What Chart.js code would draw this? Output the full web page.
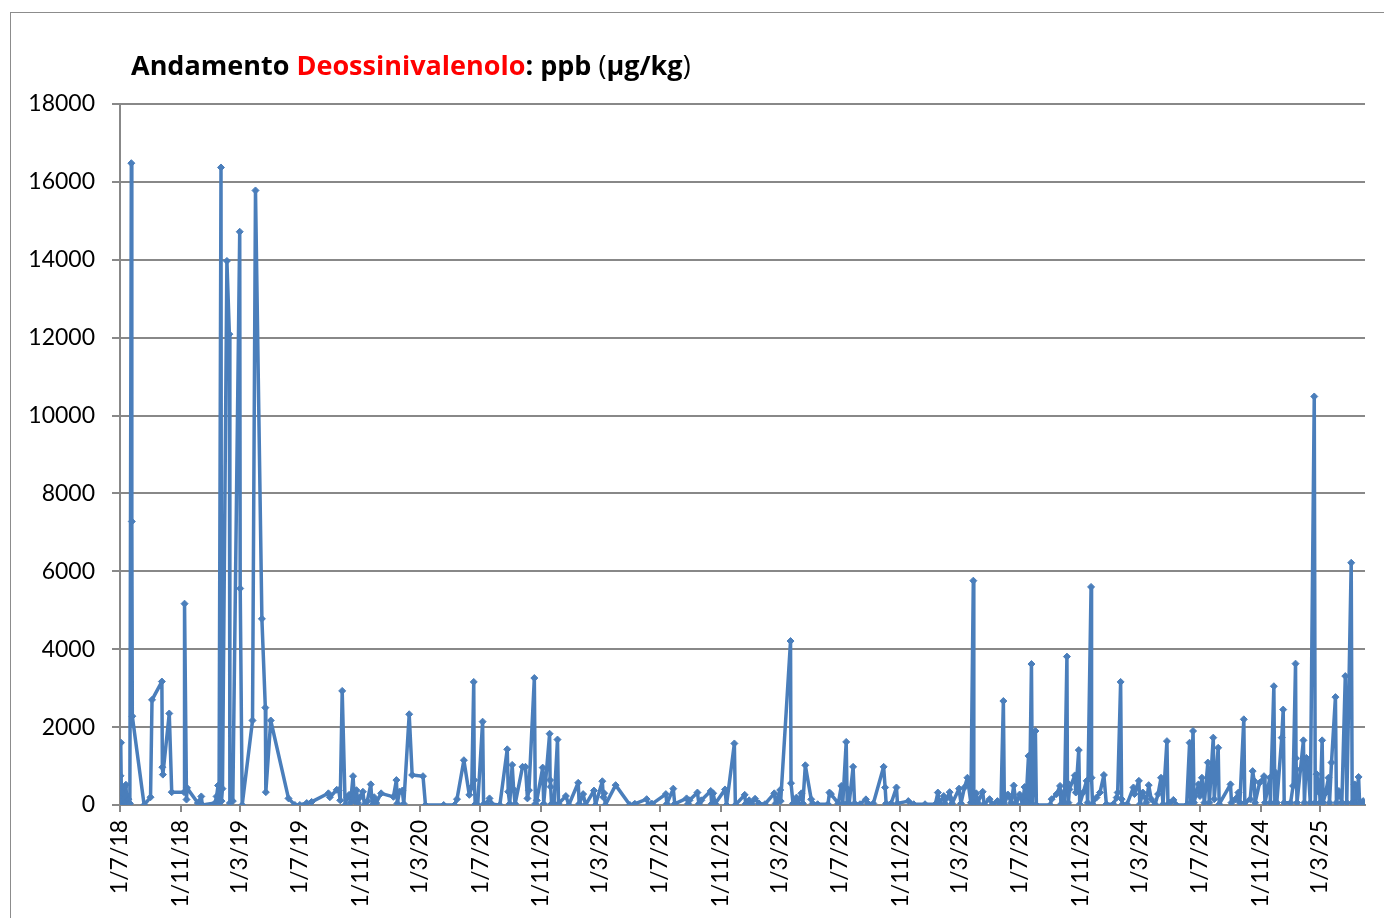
<!DOCTYPE html>
<html>
<head>
<meta charset="utf-8">
<script src="https://cdn.jsdelivr.net/npm/chart.js@4.4.1/dist/chart.umd.min.js"></script>
<style>
  html, body { margin:0; padding:0; background:#fff; overflow:hidden; }
  #wrap { position:relative; width:1384px; height:918px; overflow:hidden; }
  #frame { position:absolute; left:10px; top:12px; width:1400px; height:1000px; border:1px solid #8c8c8c; box-sizing:border-box; }
  #title { position:absolute; left:131px; top:48px; font-family:"Open Sans"; font-weight:bold; font-size:27px; line-height:34px; white-space:nowrap; color:#000; }
  #title .red { color:#ff0000; }
  #title .paren { font-weight:normal; }
  canvas { position:absolute; left:0; top:0; }
</style>
</head>
<body>
<div id="wrap">
  <div id="frame"></div>
  <canvas id="chart" width="1384" height="918"></canvas>
  <div id="title">Andamento <span class="red">Deossinivalenolo</span>: ppb <span class="paren">(</span>µg/kg<span class="paren">)</span></div>
</div>
<script>
// tick labels of the date axis (d/m/yy)
const tickLabels = ['1/7/18','1/11/18','1/3/19','1/7/19','1/11/19','1/3/20','1/7/20','1/11/20','1/3/21','1/7/21',
  '1/11/21','1/3/22','1/7/22','1/11/22','1/3/23','1/7/23','1/11/23','1/3/24','1/7/24','1/11/24','1/3/25'];
const lastDay = '2025-06-01';

// sampling dates and DON values (ppb)
const dates = [
  // 2018
  '2018-07-01','2018-07-02','2018-07-03','2018-07-04','2018-07-05','2018-07-07','2018-07-09','2018-07-11','2018-07-13','2018-07-15',
  '2018-07-18','2018-07-21','2018-07-24','2018-07-25','2018-07-26','2018-08-19','2018-09-01','2018-09-04','2018-09-24','2018-09-25',
  '2018-09-26','2018-10-09','2018-10-14','2018-11-08','2018-11-09','2018-11-13','2018-11-14','2018-12-06','2018-12-13','2018-12-15',
  // 2019
  '2019-01-10','2019-01-13','2019-01-16','2019-01-18','2019-01-22','2019-01-23','2019-01-25','2019-02-03','2019-02-08','2019-02-09',
  '2019-02-15','2019-03-01','2019-03-02','2019-03-06','2019-03-27','2019-04-02','2019-04-15','2019-04-22','2019-04-23','2019-05-03',
  '2019-06-08','2019-06-21','2019-07-01','2019-07-15','2019-07-25','2019-08-28','2019-08-31','2019-09-14','2019-09-18','2019-09-21',
  '2019-09-25','2019-10-01','2019-10-05','2019-10-09','2019-10-12','2019-10-17','2019-10-20','2019-10-24','2019-10-27','2019-10-31',
  '2019-11-06','2019-11-09','2019-11-15','2019-11-22','2019-11-25','2019-11-29','2019-12-03','2019-12-13',
  // 2020
  '2020-01-07','2020-01-13','2020-01-15','2020-01-19','2020-01-25','2020-01-28','2020-02-08','2020-02-14','2020-03-07','2020-03-12',
  '2020-04-18','2020-05-10','2020-05-15','2020-05-29','2020-06-09','2020-06-14','2020-06-18','2020-06-19','2020-06-21','2020-06-26',
  '2020-07-06','2020-07-08','2020-07-14','2020-07-20','2020-07-25','2020-08-10','2020-08-25','2020-08-27','2020-08-30','2020-09-04',
  '2020-09-07','2020-09-10','2020-09-25','2020-10-01','2020-10-05','2020-10-08','2020-10-19','2020-10-21','2020-10-24','2020-11-05',
  '2020-11-07','2020-11-19','2020-11-20','2020-11-21','2020-11-23','2020-11-28','2020-12-05','2020-12-07','2020-12-22','2020-12-28',
  // 2021
  '2021-01-16','2021-01-18','2021-01-26','2021-01-31','2021-02-17','2021-02-20','2021-03-06','2021-03-08','2021-03-10','2021-03-12',
  '2021-04-02','2021-05-01','2021-05-08','2021-05-11','2021-06-04','2021-06-07','2021-06-13','2021-06-15','2021-07-13','2021-07-15',
  '2021-07-28','2021-07-31','2021-08-24','2021-08-27','2021-08-30','2021-09-15','2021-09-18','2021-09-23','2021-10-12','2021-10-14',
  '2021-10-17','2021-10-21','2021-11-10','2021-11-13','2021-11-29','2021-12-01','2021-12-20','2021-12-22','2021-12-29',
  // 2022
  '2022-01-03','2022-01-10','2022-01-18','2022-01-30','2022-02-18','2022-02-21','2022-03-02','2022-03-03','2022-03-23','2022-03-24',
  '2022-03-28','2022-04-04','2022-04-07','2022-04-14','2022-04-17','2022-04-22','2022-05-04','2022-05-07','2022-05-17','2022-06-07',
  '2022-06-10','2022-06-13','2022-06-28','2022-07-04','2022-07-07','2022-07-14','2022-07-16','2022-07-18','2022-07-20','2022-07-28',
  '2022-07-31','2022-08-11','2022-08-23','2022-08-27','2022-09-07','2022-09-28','2022-10-01','2022-10-03','2022-10-13','2022-10-24',
  '2022-10-26','2022-11-17','2022-11-28','2022-12-21',
  // 2023
  '2023-01-11','2023-01-16','2023-01-19','2023-01-28','2023-01-30','2023-02-09','2023-02-12','2023-02-14','2023-02-28','2023-03-04',
  '2023-03-11','2023-03-17','2023-03-24','2023-03-29','2023-03-30','2023-04-04','2023-04-07','2023-04-17','2023-04-20','2023-05-01',
  '2023-05-07','2023-05-17','2023-05-24','2023-05-29','2023-05-31','2023-06-07','2023-06-14','2023-06-19','2023-06-24','2023-07-01',
  '2023-07-07','2023-07-11','2023-07-14','2023-07-19','2023-07-21','2023-07-25','2023-07-27','2023-08-02','2023-08-04','2023-09-01',
  '2023-09-04','2023-09-14','2023-09-21','2023-09-23','2023-09-28','2023-09-30','2023-10-05','2023-10-06','2023-10-08','2023-10-10',
  '2023-10-21','2023-10-23','2023-10-29','2023-10-31','2023-11-07','2023-11-14','2023-11-16','2023-11-23','2023-11-24','2023-11-26',
  '2023-12-04','2023-12-11','2023-12-19','2023-12-24',
  // 2024
  '2024-01-07','2024-01-14','2024-01-16','2024-01-22','2024-01-24','2024-01-26','2024-02-04','2024-02-17','2024-02-19','2024-02-28',
  '2024-03-01','2024-03-07','2024-03-14','2024-03-19','2024-03-24','2024-04-01','2024-04-07','2024-04-13','2024-04-17','2024-04-25',
  '2024-04-27','2024-05-01','2024-05-08','2024-05-14','2024-06-04','2024-06-10','2024-06-12','2024-06-17','2024-06-19','2024-06-28',
  '2024-07-01','2024-07-05','2024-07-10','2024-07-17','2024-07-20','2024-07-28','2024-07-30','2024-08-07','2024-08-09','2024-09-01',
  '2024-09-03','2024-09-11','2024-09-17','2024-09-20','2024-09-28','2024-09-30','2024-10-11','2024-10-16','2024-10-19','2024-10-21',
  '2024-10-30','2024-11-08','2024-11-10','2024-11-20','2024-11-21','2024-11-28','2024-11-30','2024-12-02','2024-12-04','2024-12-14',
  '2024-12-17','2024-12-19',
  // 2025
  '2025-01-01','2025-01-06','2025-01-11','2025-01-12','2025-01-14','2025-01-21','2025-01-27','2025-01-29','2025-02-02','2025-02-05',
  '2025-02-10','2025-02-18','2025-02-20','2025-02-23','2025-03-01','2025-03-02','2025-03-06','2025-03-08','2025-03-13','2025-03-19',
  '2025-03-21','2025-03-25','2025-04-02','2025-04-04','2025-04-09','2025-04-15','2025-04-22','2025-04-25','2025-05-04','2025-05-06',
  '2025-05-11','2025-05-13','2025-05-19','2025-05-21','2025-05-28','2025-06-01'
];

const ppb = [
  // 2018
  50, 750, 1600, 80, 320, 20, 450, 60, 520, 30,
  150, 40, 16480, 7280, 2280, 0, 200, 2700, 3170, 970,
  780, 2350, 330, 330, 5170, 140, 440, 50, 220, 0,
  // 2019
  50, 220, 500, 30, 16370, 100, 420, 13970, 12090, 50,
  100, 14720, 5560, 0, 2170, 15780, 4780, 2500, 330, 2170,
  170, 0, 0, 50, 80, 300, 200, 390, 380, 120,
  2930, 0, 200, 260, 60, 740, 100, 380, 50, 200,
  340, 0, 100, 530, 0, 200, 50, 300,
  // 2020
  210, 640, 40, 340, 370, 30, 2330, 770, 740, 0,
  0, 0, 150, 1150, 260, 470, 3160, 640, 20, 0,
  2140, 20, 30, 170, 20, 0, 1430, 340, 30, 1030,
  400, 30, 980, 980, 170, 380, 3260, 30, 120, 960,
  30, 1830, 640, 470, 30, 40, 1680, 30, 230, 0,
  // 2021
  570, 30, 280, 0, 370, 0, 610, 200, 300, 0,
  510, 0, 0, 30, 150, 0, 30, 30, 280, 30,
  420, 30, 170, 30, 120, 320, 30, 120, 360, 30,
  300, 30, 400, 0, 1580, 0, 260, 30, 120,
  // 2022
  30, 160, 40, 20, 300, 40, 385, 100, 4210, 560,
  40, 190, 40, 300, 40, 1020, 145, 40, 20, 20,
  320, 280, 40, 490, 40, 1620, 40, 400, 40, 980,
  40, 20, 145, 40, 40, 980, 450, 40, 40, 450,
  40, 100, 20, 20,
  // 2023
  20, 320, 40, 230, 40, 330, 150, 40, 420, 40,
  450, 700, 60, 5760, 60, 300, 60, 340, 20, 150,
  20, 100, 20, 2670, 20, 270, 60, 500, 20, 270,
  20, 460, 100, 1260, 20, 3620, 20, 1900, 0, 0,
  150, 280, 490, 20, 320, 60, 3810, 570, 60, 400,
  760, 320, 1410, 20, 320, 620, 60, 5600, 700, 20,
  190, 320, 770, 20,
  // 2024
  20, 190, 320, 3160, 150, 20, 20, 450, 280, 620,
  20, 320, 60, 510, 150, 20, 280, 700, 20, 1640,
  20, 60, 130, 0, 0, 1600, 60, 1900, 60, 530,
  230, 700, 60, 1090, 60, 1730, 150, 1470, 20, 530,
  60, 150, 320, 60, 2200, 60, 150, 870, 620, 60,
  570, 740, 60, 700, 60, 3050, 60, 830, 60, 1730,
  2450, 60,
  // 2025
  60, 490, 3630, 1200, 60, 915, 1660, 60, 1210, 1080,
  60, 10490, 60, 790, 310, 60, 1660, 60, 310, 700,
  60, 1090, 2770, 60, 360, 60, 3310, 60, 6220, 60,
  530, 60, 720, 60, 100, 20
];

const dayOf = s => Date.parse(s + 'T00:00:00Z') / 864e5;
const dayOfLabel = l => {
  const [d, m, y] = l.split('/').map(Number);
  return Date.UTC(2000 + y, m - 1, d) / 864e5;
};
const tickDays = tickLabels.map(dayOfLabel);
const points = dates.map((d, i) => ({ x: dayOf(d), y: ppb[i] }));

const lineBlue = '#4a7ebb';
const gridGrey = '#888888';
const tickFont = { family: 'Lato', size: 23 };

const ctx = document.getElementById('chart').getContext('2d');
new Chart(ctx, {
  type: 'line',
  data: {
    datasets: [{
      data: points,
      borderColor: lineBlue,
      backgroundColor: lineBlue,
      borderWidth: 3.5,
      borderJoinStyle: 'round',
      pointStyle: 'rectRot',
      pointRadius: 3.5,
      pointHoverRadius: 3.5,
      pointBorderWidth: 1,
      tension: 0
    }]
  },
  options: {
    responsive: false,
    animation: false,
    layout: { padding: { top: 104, right: 19, left: 0, bottom: 0 } },
    plugins: { legend: { display: false }, tooltip: { enabled: false } },
    scales: {
      x: {
        type: 'linear',
        min: tickDays[0],
        max: dayOf(lastDay),
        afterBuildTicks: s => { s.ticks = tickDays.map(v => ({ value: v })); },
        afterFit: s => { s.height = 113; },
        ticks: {
          autoSkip: false, minRotation: 90, maxRotation: 90, padding: 8,
          color: '#000', font: tickFont,
          callback: (v, i) => tickLabels[i]
        },
        grid: { drawOnChartArea: false, tickLength: 7, color: gridGrey, lineWidth: 2 },
        border: { color: gridGrey, width: 2 }
      },
      y: {
        min: 0,
        max: 18000,
        afterFit: s => { s.width = 120; },
        ticks: { stepSize: 2000, padding: 17, color: '#000', font: tickFont, callback: v => String(v) },
        grid: { color: gridGrey, lineWidth: 2, tickLength: 8 },
        border: { color: gridGrey, width: 2 }
      }
    }
  }
});
</script>
</body>
</html>
